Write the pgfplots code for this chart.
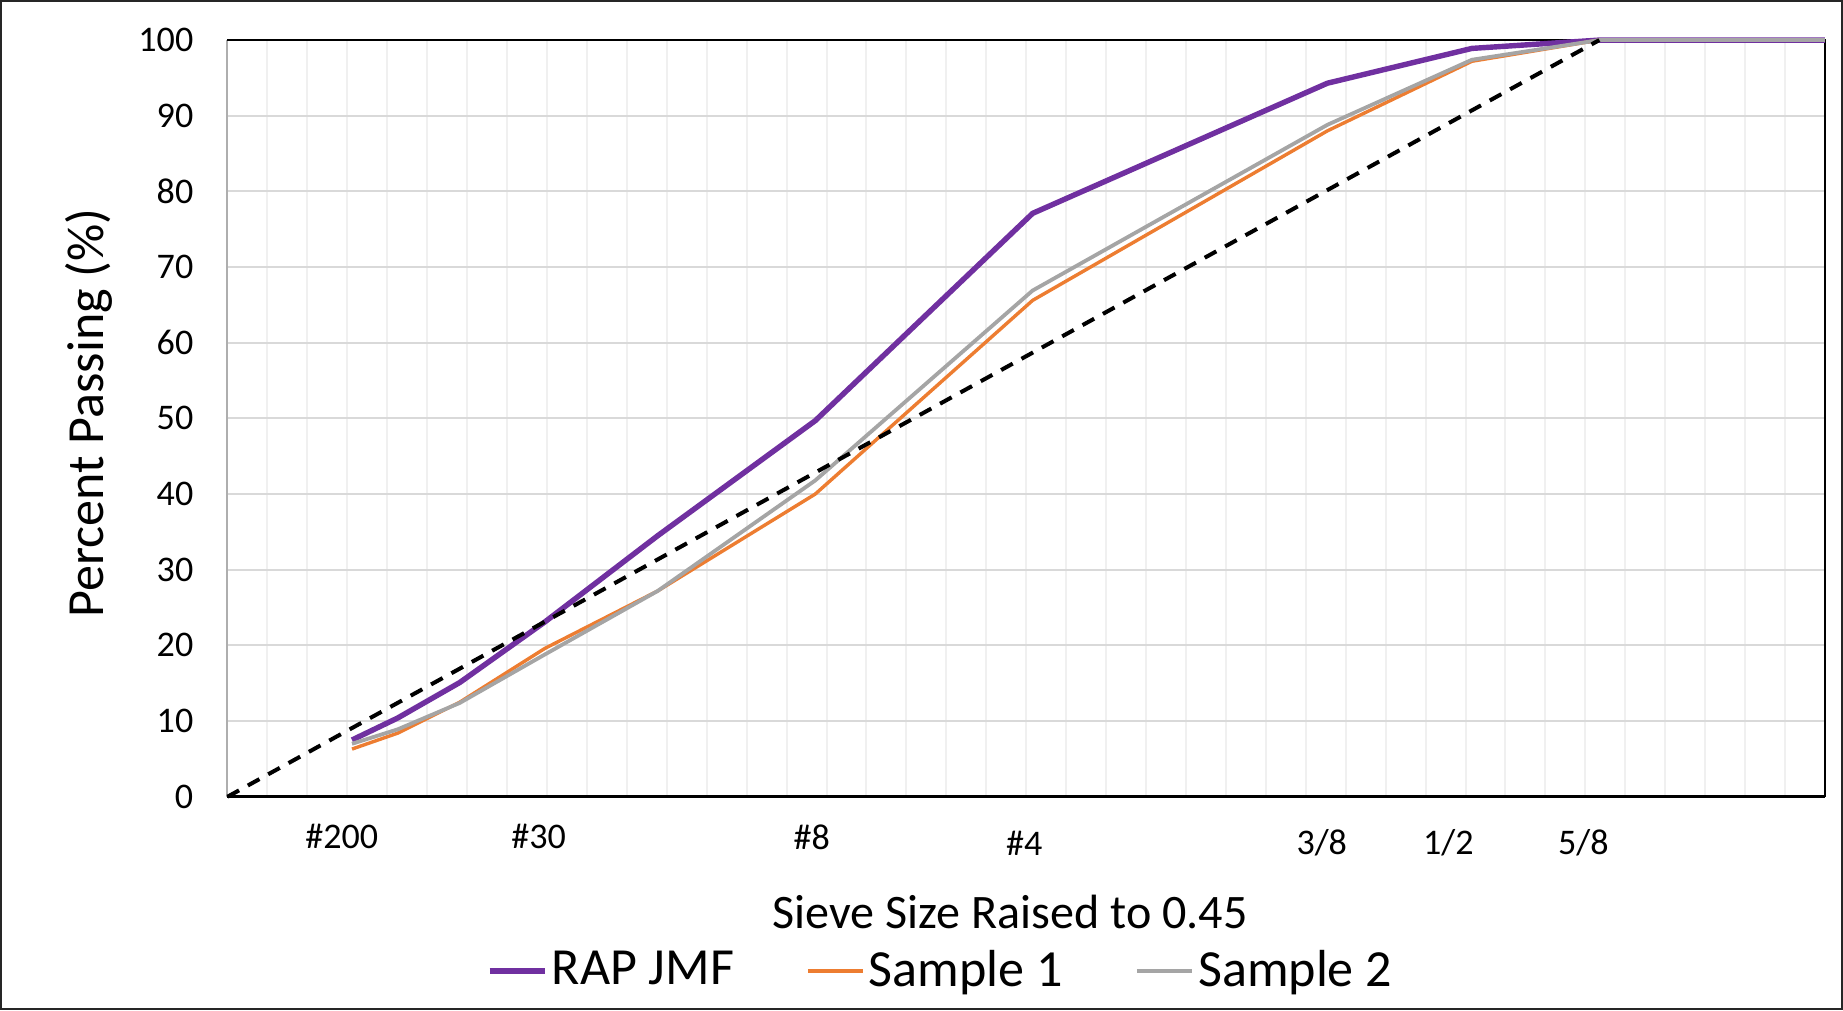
\documentclass[border=0pt]{standalone}
\usepackage{pgfplots}
\pgfplotsset{compat=1.18}
\usepackage{fontspec}
\setmainfont{Carlito}
\definecolor{rapjmf}{HTML}{7030A0}
\definecolor{samp1}{HTML}{ED7D31}
\definecolor{samp2}{HTML}{A5A5A5}
\definecolor{hgrid}{HTML}{D9D9D9}
\definecolor{vgrid}{HTML}{F0F0F0}

% x = sieve size (mm) raised to 0.45
\pgfplotstableread{
x      rap    s1     s2
0.3118 7.5    6.3    7.0
0.4259 10.4   8.4    8.9
0.5817 15.1   12.5   12.4
0.7946 23.1   19.6   18.8
1.0773 34.5   27.2   27.2
1.4717 49.7   40.0   41.8
2.0160 77.1   65.6   66.9
2.7540 94.3   88.0   88.8
3.1160 98.9   97.2   97.4
3.4350 100    100    100
4.0000 100    100    100
}\gradation

\begin{document}
\begin{tikzpicture}
\begin{axis}[
    scale only axis,
    width=398.5pt, height=188.75pt,
    xmin=0, xmax=4, ymin=0, ymax=100,
    clip=false,
    axis line style={draw=none},
    ytick={0,10,...,100},
    xtick={0.286,0.779,1.463},
    xticklabels={\#200,\#30,\#8},
    extra x ticks={1.995,2.740,3.057,3.395},
    extra x tick labels={\#4,3/8,1/2,5/8},
    extra x tick style={grid=none, xticklabel style={yshift=-1.5pt}},
    minor xtick={0,0.1,...,4.01},
    major tick length=0pt, minor tick length=0pt,
    xmajorgrids=false, xminorgrids=true, ymajorgrids=true,
    minor grid style={draw=vgrid, line width=0.5pt},
    major grid style={draw=hgrid, line width=0.5pt},
    /pgf/number format/assume math mode=true,
    tick label style={font=\fontsize{9}{10}\selectfont},
    xticklabel style={anchor=center, yshift=-10pt},
    yticklabel style={anchor=east, xshift=-5pt},
    xlabel={Sieve Size Raised to 0.45},
    xlabel style={at={(rel axis cs:0.49,0)}, anchor=center, yshift=-28.75pt,
        font=\fontsize{12}{14}\selectfont},
    ylabel={Percent Passing (\%)},
    ylabel style={at={([xshift=-34.6pt]rel axis cs:0,0.507)}, anchor=center,
        font=\fontsize{13}{15}\selectfont},
    legend columns=3,
    legend style={at={(rel axis cs:0.447,0)}, anchor=center, yshift=-43.5pt,
        draw=none, fill=none, font=\fontsize{13}{15}\selectfont,
        /tikz/every even column/.append style={column sep=17pt},
        nodes={inner sep=1pt}},
    legend image code/.code={\draw[#1] (0pt,0pt) -- (13.8pt,0pt);},
]
% axis borders
\draw[hgrid!80!black, line width=0.5pt] (rel axis cs:0,0) -- (rel axis cs:0,1);
\draw[black, line width=0.5pt] (rel axis cs:0,1) -- (rel axis cs:1,1) -- (rel axis cs:1,0);
\draw[black, line width=0.75pt] (rel axis cs:0,0) -- (rel axis cs:1,0);

\addplot[rapjmf, line width=1.35pt] table[x=x, y=rap] {\gradation};
\addlegendentry{RAP JMF}
\addplot[samp1, line width=0.85pt] table[x=x, y=s1] {\gradation};
\addlegendentry{Sample 1}
\addplot[samp2, line width=0.95pt] table[x=x, y=s2] {\gradation};
\addlegendentry{Sample 2}
% maximum density line
\addplot[black, line width=1pt, dash pattern=on 3.3pt off 2.5pt, forget plot]
    coordinates {(0,0) (3.435,100)};

% chart frame
\draw[black!85, line width=0.5pt]
    ([xshift=-56.5pt, yshift=-53pt]rel axis cs:0,0) rectangle
    ([xshift=4.25pt, yshift=9.75pt]rel axis cs:1,1);
\end{axis}
\end{tikzpicture}
\end{document}
